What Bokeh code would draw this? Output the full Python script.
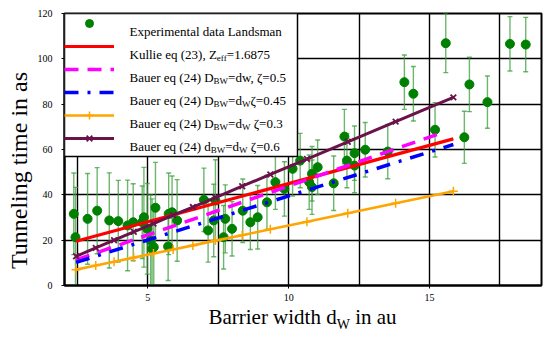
from bokeh.plotting import figure
from bokeh.models import Range1d, FixedTicker, Legend, LegendItem, Label, BoxAnnotation, Div
from bokeh.layouts import column
from bokeh.embed import file_html
from bokeh.resources import INLINE

# ---------------- data ----------------
exp_x = [2.37, 2.43, 2.86, 3.20, 3.63, 3.95, 4.28, 4.48, 4.80, 4.86,
         4.98, 5.10, 5.15, 5.21, 5.27, 5.72, 5.74, 5.86, 6.04, 6.99,
         7.14, 7.34, 7.40, 7.69, 7.75, 7.99, 8.37, 8.64, 8.90, 9.23,
         9.53, 9.85, 10.14, 10.41, 10.73, 10.83, 10.83, 11.03, 11.60, 11.98,
         12.07, 12.34, 12.34, 12.72, 13.52, 14.11, 14.43, 15.20, 15.58, 16.24,
         16.42, 17.06, 17.86, 18.42]
exp_y = [31.6, 21.3, 29.4, 33.0, 28.7, 28.4, 26.5, 27.9, 27.9, 30.1,
         25.0, 19.9, 16.2, 16.9, 34.3, 17.2, 31.6, 32.3, 28.7, 37.8,
         24.3, 28.7, 37.5, 21.3, 29.4, 25.0, 33.0, 27.9, 30.1, 36.7,
         45.6, 42.6, 51.5, 55.1, 45.6, 43.4, 49.3, 52.2, 45.1, 65.7,
         55.1, 58.4, 52.9, 59.9, 59.1, 89.7, 84.6, 68.7, 106.9, 65.4,
         88.7, 80.9, 106.6, 106.3]
exp_err = [18, 22, 20, 19, 21, 18, 20, 17, 16, 22,
           20, 20, 22, 18, 20, 15, 18, 16, 18, 14,
           14, 16, 18, 14, 15, 12, 14, 12, 14, 12,
           12, 12, 12, 12, 12, 12, 12, 12, 12, 12,
           12, 12, 12, 12, 12, 12, 12, 12, 13, 11.5,
           12, 11.5, 12, 12]

kullie_x = [2.45, 15.85]
kullie_y = [19.5, 64.7]
bauer05_x = [2.45, 15.5]
bauer05_y = [11.3, 67.6]
bauer045_x = [2.45, 15.85]
bauer045_y = [10.2, 62.2]

model_x = [2.45, 3.15, 3.8, 4.5, 5.2, 5.9, 6.6, 7.4, 8.35, 9.35, 10.65, 12.1, 13.8, 15.85]
bauer03_y = [7.0, 8.8, 10.5, 12.3, 14.1, 15.9, 17.7, 19.8, 22.2, 24.8, 28.1, 31.9, 36.3, 41.6]
bauer06_y = [12.9, 16.6, 20.0, 23.7, 27.3, 31.0, 34.6, 38.8, 43.8, 49.0, 55.8, 63.4, 72.3, 83.0]

x_ticks = [5, 10, 15]
x_grid = [2.5, 5, 7.5, 10, 12.5, 15, 17.5]
y_ticks = [0, 20, 40, 60, 80, 100, 120]

FONT = "Liberation Serif"

# Times/Liberation Serif advance widths (per 1000 em) for layout of rich text
WID = {' ': 250, 'a': 444, 'b': 500, 'c': 444, 'd': 500, 'e': 444, 'f': 333, 'g': 500,
       'h': 500, 'i': 278, 'l': 278, 'm': 778, 'n': 500, 'p': 500, 'q': 500, 'r': 333,
       's': 389, 't': 278, 'u': 500, 'w': 722, 'x': 500, 'B': 667, 'D': 722, 'E': 611,
       'K': 722, 'L': 611, 'W': 944, 'Z': 611, 'T': 611, '(': 333, ')': 333, ',': 250,
       '.': 250, '=': 564, 'ζ': 440}


def tw(s, size):
    return sum(WID.get(c, 500) for c in s) * size / 1000.0


FW, FH = 477, 272
ML, MT = 64, 13
p = figure(frame_width=FW, frame_height=FH,
           x_range=Range1d(2.04, 18.98), y_range=Range1d(0, 120),
           output_backend="svg", toolbar_location=None,
           min_border_left=ML, min_border_right=9, min_border_top=MT, min_border_bottom=20)

p.outline_line_color = "black"
p.outline_line_width = 2
p.background_fill_color = "white"
p.border_fill_color = "white"

for g, t in ((p.xgrid, x_grid), (p.ygrid, y_ticks)):
    g.ticker = FixedTicker(ticks=t)
    g.grid_line_color = "black"
    g.grid_line_width = 1.4
    g.grid_line_alpha = 1.0

p.xaxis.ticker = FixedTicker(ticks=x_ticks)
p.yaxis.ticker = FixedTicker(ticks=y_ticks)
for ax in (p.xaxis, p.yaxis):
    ax.axis_line_color = "black"
    ax.axis_line_width = 2
    ax.major_tick_out = 3
    ax.major_tick_in = 0
    ax.minor_tick_line_color = None
    ax.major_tick_line_color = "black"
    ax.major_label_text_font = FONT
    ax.major_label_text_font_size = "10px"
    ax.major_label_text_color = "black"
p.xaxis.major_label_standoff = 5
p.yaxis.major_label_standoff = 9
# label sits lower than the frame centre in the reference: pad its top end with no-break spaces
p.yaxis.axis_label = "Tunneling time in as" + "\u00a0" * 7
p.yaxis.axis_label_text_font = FONT
p.yaxis.axis_label_text_font_size = "24px"
p.yaxis.axis_label_text_font_style = "normal"
p.yaxis.axis_label_text_color = "black"
p.yaxis.axis_label_standoff = 3

# ---------------- experimental data ----------------
err_lo = [y - e for y, e in zip(exp_y, exp_err)]
err_hi = [y + e for y, e in zip(exp_y, exp_err)]
ecol = "#3c9f3c"
p.segment(x0=exp_x, y0=err_lo, x1=exp_x, y1=err_hi, line_color=ecol, line_width=1.4, line_alpha=0.75)
p.scatter(x=exp_x + exp_x, y=err_lo + err_hi, marker="dash", size=5, line_color=ecol, line_width=1.4, line_alpha=0.75)
r_exp = p.scatter(x=exp_x, y=exp_y, marker="circle", size=9, fill_color="#008000", line_color="#008000")

# ---------------- models ----------------
r_kul = p.line(kullie_x, kullie_y, line_color="#ff0000", line_width=3.2)
r_b05 = p.line(bauer05_x, bauer05_y, line_color="#ff00ff", line_width=3.5, line_dash="14 9")
r_b045 = p.line(bauer045_x, bauer045_y, line_color="#0000ff", line_width=3.5, line_dash="14 9 3 9")
r_b03 = p.line(model_x, bauer03_y, line_color="#ffa500", line_width=2.6)
r_b03m = p.scatter(model_x, bauer03_y, marker="cross", size=9, line_color="#ffa500", line_width=1.5)
r_b06 = p.line(model_x, bauer06_y, line_color="#6b124b", line_width=3)
r_b06m = p.scatter(model_x, bauer06_y, marker="x", size=8, line_color="#6b124b", line_width=1.8)

# ---------------- legend: white box, texts, then transparent sample legend ----------------
PAD, GH, SP, GW, STAND = 3, 20, 3, 50, 12
LW, LH = 233, 2 * PAD + 6 * GH + 5 * SP + 2
p.add_layout(BoxAnnotation(left=0, right=LW, top=FH, bottom=FH - LH,
                           left_units="screen", right_units="screen",
                           top_units="screen", bottom_units="screen",
                           fill_color="white", fill_alpha=1.0,
                           line_color="black", line_width=1.5, line_alpha=1.0))


def rich(pieces, x0, y0, size, sub_size, drop):
    x = x0
    for txt, sub in pieces:
        fs = sub_size if sub else size
        stripped = txt.lstrip(' ')
        x += tw(txt[:len(txt) - len(stripped)], fs)
        p.add_layout(Label(x=x, y=y0 - (drop if sub else 0), x_units="screen", y_units="screen",
                           text=stripped, text_font=FONT, text_font_size=f"{fs}px",
                           text_baseline="alphabetic", text_align="left", text_color="black"))
        x += tw(stripped, fs)


legend_lines = [
    [("Experimental data Landsman", False)],
    [("Kullie eq (23), Z", False), ("eff", True), ("=1.6875", False)],
    [("Bauer eq (24) D", False), ("BW", True), ("=dw, ζ=0.5", False)],
    [("Bauer eq (24) D", False), ("BW", True), ("=d", False), ("W", True), ("ζ=0.45", False)],
    [("Bauer eq (24) D", False), ("BW", True), ("=d", False), ("W", True), (" ζ=0.3", False)],
    [("Bauer eq (24) d", False), ("BW", True), ("=d", False), ("W", True), (" ζ=0.6", False)],
]
for i, pcs in enumerate(legend_lines):
    centre = PAD + GH / 2 + i * (GH + SP)
    rich(pcs, 65, FH - centre - 4.5, 13, 9, 3.5)

items = [LegendItem(label=" ", renderers=[r_exp]),
         LegendItem(label=" ", renderers=[r_kul]),
         LegendItem(label=" ", renderers=[r_b05]),
         LegendItem(label=" ", renderers=[r_b045]),
         LegendItem(label=" ", renderers=[r_b03, r_b03m]),
         LegendItem(label=" ", renderers=[r_b06, r_b06m])]
legend = Legend(items=items, location="top_left", margin=0, padding=PAD, spacing=SP,
                glyph_width=GW, glyph_height=GH, label_height=GH, label_standoff=STAND,
                label_width=LW - 2 * PAD - GW - STAND, label_text_font_size="13px",
                border_line_color=None, background_fill_alpha=0.0)
p.add_layout(legend, "center")

# x axis label (with a true subscript) as an HTML block right under the plot
xlabel = Div(text='Barrier width d<sub style="font-size:14px;vertical-align:-5px;line-height:0">W</sub> in au',
             width=FW, height=34, margin=(0, 0, 0, ML),
             styles={"font-family": FONT, "font-size": "21px", "color": "black",
                     "text-align": "center", "line-height": "24px"})

layout = column(p, xlabel, spacing=0)
open("out.html", "w").write(file_html(layout, INLINE))
